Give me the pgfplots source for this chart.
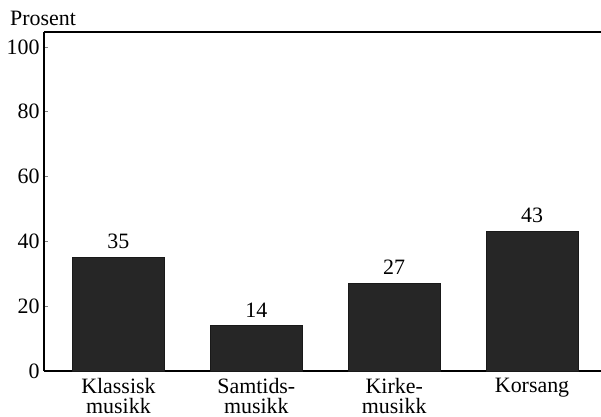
\documentclass[border=0pt]{standalone}
\usepackage{pgfplots}
\pgfplotsset{compat=1.18}
\usepackage{fontspec}
\setmainfont{Liberation Serif}
\begin{document}
\begin{tikzpicture}
\begin{axis}[
  name=ax,
  scale only axis,
  width=557bp, height=339bp,
  xmin=-0.54, xmax=3.5,
  ymin=0, ymax=104.6,
  axis x line*=bottom,
  axis y line*=left,
  axis line style={line width=1.2pt, -},
  ytick={0,20,40,60,80,100},
  xtick={0,1,2,3},
  xticklabels={{Klassisk\\musikk},{Samtids-\\musikk},{Kirke-\\musikk},{Korsang}},
  xtick style={draw=none},
  ytick style={line width=0.8pt},
  tick align=inside,
  major tick length=4bp,
  x tick label style={align=center, font=\fontsize{22}{20}\selectfont, yshift=-2bp, inner sep=1bp},
  y tick label style={font=\fontsize{22}{22}\selectfont, xshift=-1bp},
  /pgf/number format/assume math mode=true,
  ybar, bar width=92bp,
  nodes near coords,
  nodes near coords style={font=\fontsize{22}{22}\selectfont, yshift=5bp},
  clip=false,
]
\addplot[fill=black!85, draw=black!90] coordinates {(0,35) (1,14) (2,27) (3,43)};
\draw[line width=1.2pt] (rel axis cs:0,1) -- (rel axis cs:1,1);
\node[anchor=base west, font=\fontsize{22}{22}\selectfont, inner sep=0pt] at ([xshift=-34bp, yshift=6bp]rel axis cs:0,1) {Prosent};
\end{axis}
\pgfresetboundingbox
\path (-44bp,-46bp) rectangle (557bp,371bp);
\end{tikzpicture}
\end{document}
